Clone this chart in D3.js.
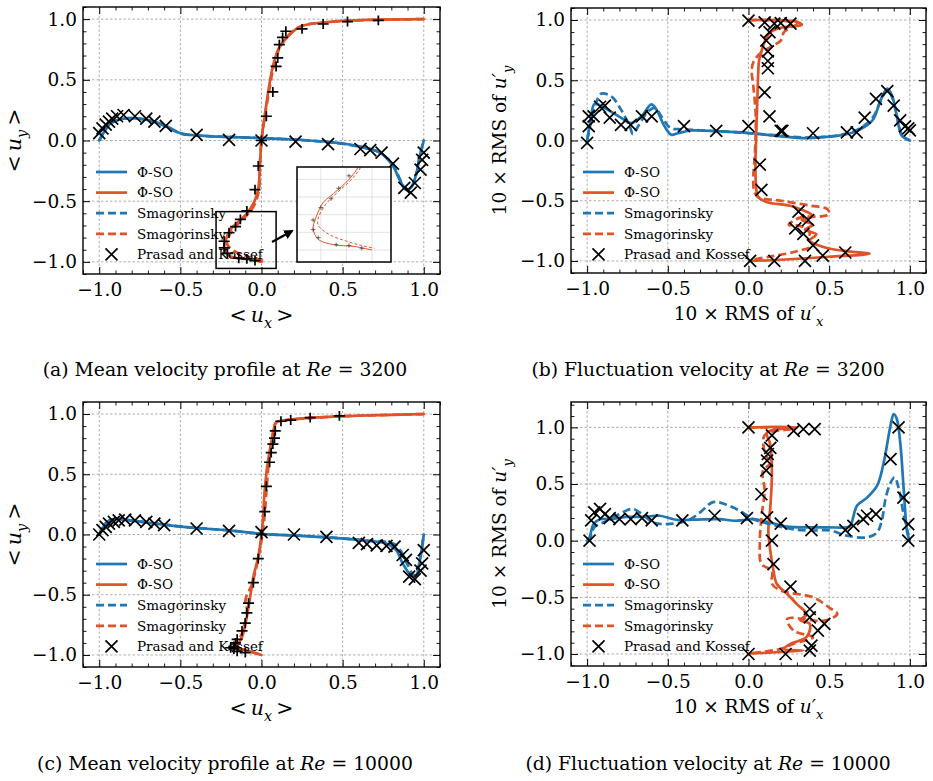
<!DOCTYPE html>
<html><head><meta charset="utf-8">
<script src="https://cdn.jsdelivr.net/npm/d3@7"></script>
<style>
body{margin:0;background:#fff}
svg{display:block}
text{font-family:"DejaVu Serif",serif;fill:#000}
</style>
</head><body>
<svg id="c" width="933" height="781"></svg>
<script>
// ---------------- data ----------------
const majorTicks = [-1, -0.5, 0, 0.5, 1];
const legendLabels = ["\u03A6-SO", "\u03A6-SO", "Smagorinsky", "Smagorinsky", "Prasad and Kossef"];
const captions = ["Mean velocity profile at ", "Fluctuation velocity at "];
const reynolds = ["3200", "10000"];

// (a) Re=3200 mean
const a_blue_phiso = [[-1,0],[-0.96,0.09],[-0.93,0.14],[-0.85,0.18],[-0.75,0.18],[-0.67,0.16],[-0.58,0.115],[-0.5,0.06],[-0.38,0.04],[-0.17,0.027],[0.01,0.02],[0.24,0.005],[0.44,-0.016],[0.61,-0.05],[0.73,-0.1],[0.81,-0.21],[0.85,-0.32],[0.89,-0.405],[0.92,-0.39],[0.955,-0.27],[0.975,-0.13],[1.0,0.0]];
const a_blue_smag = [[-1,0],[-0.96,0.1],[-0.93,0.145],[-0.85,0.182],[-0.75,0.178],[-0.67,0.158],[-0.58,0.11],[-0.5,0.058],[-0.38,0.04],[-0.17,0.028],[0.01,0.02],[0.24,0.004],[0.44,-0.018],[0.61,-0.052],[0.73,-0.1],[0.81,-0.2],[0.85,-0.31],[0.89,-0.4],[0.92,-0.39],[0.955,-0.27],[0.975,-0.13],[1,0]];
const a_orange_phiso = [[1,1],[0.44,0.98],[0.24,0.94],[0.18,0.88],[0.11,0.77],[0.07,0.61],[0.04,0.39],[0.02,0.2],[0,0],[-0.01,-0.21],[-0.02,-0.4],[-0.05,-0.52],[-0.09,-0.6],[-0.15,-0.68],[-0.19,-0.73],[-0.22,-0.82],[-0.23,-0.88],[-0.21,-0.94],[-0.15,-0.97],[-0.07,-0.98],[0,-1]];
const a_orange_smag = [[1,1],[0.44,0.98],[0.24,0.94],[0.18,0.885],[0.115,0.77],[0.075,0.61],[0.045,0.39],[0.02,0.2],[0,0],[-0.01,-0.21],[-0.015,-0.4],[-0.04,-0.52],[-0.08,-0.6],[-0.14,-0.68],[-0.18,-0.74],[-0.21,-0.82],[-0.21,-0.86],[-0.17,-0.91],[-0.1,-0.95],[-0.04,-0.975],[0.01,-0.99]];
const a_blue_ref = [[-1,0.06],[-0.98,0.1],[-0.96,0.13],[-0.94,0.155],[-0.92,0.18],[-0.89,0.2],[-0.85,0.21],[-0.78,0.2],[-0.71,0.18],[-0.66,0.155],[-0.59,0.12],[-0.4,0.047],[-0.2,0.005],[0,0],[0.21,-0.01],[0.41,-0.03],[0.61,-0.07],[0.67,-0.08],[0.74,-0.1],[0.81,-0.19],[0.88,-0.39],[0.92,-0.43],[0.945,-0.35],[0.98,-0.24],[0.99,-0.16],[1.0,-0.1]];
const a_orange_ref = [[-0.04,-0.99],[-0.09,-0.975],[-0.14,-0.97],[-0.21,-0.93],[-0.23,-0.885],[-0.23,-0.83],[-0.2,-0.76],[-0.16,-0.71],[-0.13,-0.65],[-0.09,-0.58],[-0.04,-0.405],[-0.02,-0.21],[0,0],[0.03,0.2],[0.07,0.4],[0.09,0.61],[0.1,0.68],[0.11,0.79],[0.13,0.85],[0.15,0.9],[0.25,0.92],[0.38,0.96],[0.53,0.98],[0.72,0.99]];

// (b) Re=3200 fluctuations
const b_blue_phiso = [[-1,0],[-0.98,0.15],[-0.953,0.306],[-0.891,0.27],[-0.788,0.187],[-0.726,0.145],[-0.664,0.2],[-0.602,0.3],[-0.57,0.256],[-0.52,0.117],[-0.479,0.048],[-0.437,0.06],[-0.355,0.083],[-0.169,0.075],[0.017,0.06],[0.2,0.035],[0.35,0.02],[0.48,0.03],[0.6,0.05],[0.69,0.09],[0.77,0.17],[0.82,0.34],[0.86,0.43],[0.89,0.37],[0.92,0.2],[0.95,0.04],[1,0]];
const b_blue_smag = [[-1,0],[-0.963,0.228],[-0.93,0.36],[-0.91,0.39],[-0.85,0.367],[-0.79,0.256],[-0.736,0.117],[-0.716,0.053],[-0.685,0.117],[-0.623,0.24],[-0.58,0.27],[-0.54,0.2],[-0.48,0.1],[-0.44,0.095],[-0.3,0.085],[-0.1,0.07],[0.05,0.055],[0.2,0.04],[0.35,0.025],[0.48,0.03],[0.6,0.055],[0.69,0.1],[0.77,0.19],[0.82,0.33],[0.86,0.42],[0.89,0.36],[0.92,0.2],[0.95,0.05],[1,0]];
const b_orange_phiso = [[0,1],[0.15,1.0],[0.3,0.985],[0.33,0.96],[0.25,0.945],[0.18,0.93],[0.13,0.89],[0.1,0.82],[0.08,0.74],[0.065,0.66],[0.06,0.55],[0.055,0.35],[0.05,0.15],[0.047,0],[0.043,-0.2],[0.047,-0.38],[0.06,-0.47],[0.11,-0.51],[0.28,-0.55],[0.4,-0.63],[0.33,-0.66],[0.4,-0.7],[0.35,-0.74],[0.42,-0.78],[0.38,-0.83],[0.48,-0.89],[0.62,-0.92],[0.75,-0.94],[0.5,-0.965],[0.2,-0.99],[0.01,-1.0]];
const b_orange_smag = [[0,1],[0.2,0.995],[0.3,0.97],[0.22,0.9],[0.2,0.83],[0.14,0.78],[0.07,0.72],[0.03,0.65],[0.02,0.58],[0.03,0.45],[0.045,0.2],[0.04,-0.1],[0.03,-0.3],[0.035,-0.42],[0.06,-0.47],[0.2,-0.5],[0.38,-0.54],[0.49,-0.57],[0.5,-0.61],[0.45,-0.63],[0.32,-0.64],[0.25,-0.7],[0.32,-0.71],[0.38,-0.76],[0.37,-0.82],[0.4,-0.87],[0.3,-0.92],[0.15,-0.96],[0.02,-0.99]];
const b_blue_ref = [[-1,-0.02],[-0.99,0.12],[-0.99,0.2],[-0.96,0.2],[-0.92,0.28],[-0.89,0.29],[-0.86,0.19],[-0.79,0.13],[-0.73,0.13],[-0.66,0.2],[-0.6,0.2],[-0.4,0.12],[-0.2,0.08],[0,0.12],[0.2,0.08],[0.4,0.06],[0.61,0.067],[0.67,0.067],[0.72,0.19],[0.79,0.345],[0.86,0.41],[0.9,0.29],[0.94,0.167],[0.97,0.117],[0.99,0.1],[1.0,0.084]];
const b_orange_ref = [[0,0.995],[0.1,0.98],[0.16,0.97],[0.2,0.975],[0.26,0.97],[0.13,0.9],[0.11,0.83],[0.12,0.74],[0.12,0.66],[0.12,0.6],[0.1,0.4],[0.13,0.2],[0.21,0.08],[0.07,-0.2],[0.08,-0.41],[0.31,-0.59],[0.37,-0.66],[0.29,-0.73],[0.34,-0.775],[0.4,-0.87],[0.46,-0.955],[0.6,-0.93],[0.35,-1.0],[0.16,-1.0],[0.01,-1.0]];

// (c) Re=10000 mean
const c_blue_phiso = [[-1,0],[-0.96,0.09],[-0.92,0.127],[-0.85,0.124],[-0.69,0.096],[-0.48,0.063],[-0.17,0.03],[0.01,0.003],[0.24,-0.011],[0.44,-0.028],[0.65,-0.052],[0.77,-0.074],[0.83,-0.13],[0.87,-0.24],[0.93,-0.35],[0.955,-0.336],[0.98,-0.185],[1.0,0.0]];
const c_blue_smag = [[-1,0],[-0.96,0.095],[-0.92,0.13],[-0.85,0.125],[-0.69,0.097],[-0.48,0.064],[-0.17,0.03],[0.01,0.004],[0.24,-0.01],[0.44,-0.026],[0.65,-0.05],[0.77,-0.062],[0.82,-0.08],[0.86,-0.14],[0.9,-0.25],[0.94,-0.34],[0.96,-0.3],[0.98,-0.18],[1,0]];
const c_orange_phiso = [[1,1],[0.44,0.978],[0.13,0.945],[0.09,0.93],[0.07,0.83],[0.04,0.61],[0.02,0.37],[0.01,0.15],[0,0],[-0.02,-0.185],[-0.05,-0.35],[-0.07,-0.52],[-0.09,-0.68],[-0.12,-0.85],[-0.15,-0.915],[-0.17,-0.93],[-0.11,-0.956],[0,-1.0]];
const c_orange_smag = [[1,1],[0.44,0.978],[0.13,0.945],[0.09,0.93],[0.065,0.8],[0.045,0.6],[0.03,0.35],[0.015,0.1],[0,-0.05],[-0.02,-0.2],[-0.04,-0.32],[-0.06,-0.42],[-0.09,-0.5],[-0.1,-0.56],[-0.09,-0.62],[-0.1,-0.72],[-0.12,-0.82],[-0.15,-0.9],[-0.17,-0.93],[-0.1,-0.96],[0,-1]];
const c_blue_ref = [[-1,0],[-0.98,0.036],[-0.96,0.063],[-0.94,0.09],[-0.91,0.105],[-0.88,0.118],[-0.84,0.124],[-0.78,0.118],[-0.71,0.105],[-0.66,0.09],[-0.6,0.077],[-0.4,0.05],[-0.2,0.03],[0,0.02],[0.2,0],[0.4,-0.02],[0.6,-0.07],[0.65,-0.08],[0.71,-0.09],[0.77,-0.094],[0.82,-0.1],[0.87,-0.17],[0.89,-0.21],[0.91,-0.35],[0.945,-0.37],[0.98,-0.3],[0.99,-0.24],[1.0,-0.13]];
const c_orange_ref = [[-0.19,-0.94],[-0.17,-0.95],[-0.15,-0.97],[-0.1,-0.98],[-0.17,-0.93],[-0.16,-0.9],[-0.15,-0.87],[-0.12,-0.8],[-0.1,-0.735],[-0.09,-0.65],[-0.08,-0.57],[-0.05,-0.4],[-0.02,-0.2],[0,0],[0.02,0.19],[0.03,0.4],[0.05,0.6],[0.06,0.68],[0.07,0.75],[0.08,0.8],[0.085,0.86],[0.12,0.94],[0.18,0.95],[0.3,0.97],[0.48,0.985]];

// (d) Re=10000 fluctuations
const d_blue_phiso = [[-1,0],[-0.985,0.03],[-0.96,0.147],[-0.92,0.19],[-0.86,0.19],[-0.76,0.21],[-0.65,0.21],[-0.55,0.22],[-0.45,0.185],[-0.34,0.185],[-0.18,0.19],[-0.09,0.176],[-0.03,0.182],[0.03,0.19],[0.13,0.16],[0.24,0.124],[0.38,0.118],[0.49,0.118],[0.61,0.118],[0.631,0.132],[0.673,0.31],[0.735,0.38],[0.797,0.485],[0.838,0.69],[0.88,1.015],[0.9,1.118],[0.92,1.07],[0.942,0.84],[0.963,0.43],[0.984,0.07],[1.0,0.0]];
const d_blue_smag = [[-1,0],[-0.985,0.015],[-0.955,0.12],[-0.9,0.16],[-0.82,0.22],[-0.72,0.28],[-0.66,0.235],[-0.59,0.16],[-0.51,0.147],[-0.38,0.176],[-0.3,0.25],[-0.22,0.34],[-0.14,0.32],[-0.05,0.26],[0.03,0.19],[0.18,0.13],[0.28,0.1],[0.38,0.09],[0.507,0.09],[0.61,0.044],[0.735,0.03],[0.797,0.073],[0.828,0.19],[0.849,0.37],[0.88,0.51],[0.905,0.56],[0.932,0.456],[0.963,0.22],[1,0]];
const d_orange_phiso = [[0,1.0],[0.3,1.0],[0.115,0.955],[0.135,0.85],[0.145,0.59],[0.135,0.294],[0.123,0.088],[0.135,-0.088],[0.155,-0.265],[0.175,-0.38],[0.24,-0.47],[0.3,-0.56],[0.36,-0.65],[0.32,-0.7],[0.38,-0.735],[0.36,-0.85],[0.26,-0.91],[0.22,-0.955],[0.34,-0.97],[0.01,-0.995]];
const d_orange_smag = [[0,1.0],[0.28,0.99],[0.1,0.93],[0.115,0.735],[0.155,0.7],[0.09,0.62],[0.1,0.44],[0.08,0.206],[0.07,-0.03],[0.08,-0.206],[0.145,-0.265],[0.145,-0.38],[0.2,-0.44],[0.4,-0.5],[0.5,-0.59],[0.55,-0.647],[0.47,-0.706],[0.24,-0.69],[0.28,-0.794],[0.4,-0.853],[0.28,-0.91],[0.2,-0.955],[0.01,-0.995]];
const d_blue_ref = [[-0.985,0],[-0.975,0.18],[-0.955,0.25],[-0.92,0.28],[-0.89,0.235],[-0.86,0.2],[-0.8,0.19],[-0.73,0.19],[-0.66,0.2],[-0.6,0.18],[-0.41,0.18],[-0.21,0.22],[-0.01,0.2],[0.2,0.15],[0.39,0.094],[0.6,0.094],[0.65,0.13],[0.71,0.19],[0.735,0.22],[0.79,0.235],[0.88,0.72],[0.93,1.0],[0.96,0.38],[0.99,0.147],[0.99,0.0]];
const d_orange_ref = [[0,1.0],[0.28,0.97],[0.34,0.985],[0.41,0.985],[0.145,0.93],[0.135,0.82],[0.12,0.765],[0.115,0.706],[0.11,0.62],[0.08,0.41],[0.115,0.206],[0.145,0.0],[0.155,-0.206],[0.26,-0.406],[0.38,-0.603],[0.38,-0.676],[0.47,-0.735],[0.43,-0.794],[0.39,-0.926],[0.38,-0.97],[0.23,-1.0],[0,-1.0]];

// inset of (a) and its arrow (data coordinates of panel a)
const insetXDomain = [-0.293, 0.074];
const insetYDomain = [-1.068, -0.53];
const insetSourceBox = [[-0.28, -0.586], [0.09, -1.054]];
const insetArrow = [[0.065, -0.836], [0.188, -0.746]];

// ---------------- drawing ----------------
const BLUE = "#1f77b4", ORANGE = "#df5328";
const svg = d3.select("#c");
const defs = svg.append("defs");
defs.append("marker").attr("id","arrowhead").attr("viewBox","0 0 10 10").attr("refX",8).attr("refY",5)
  .attr("markerWidth",4).attr("markerHeight",4).attr("orient","auto")
  .append("path").attr("d","M0,0 L10,5 L0,10 z").attr("fill","#000");

function crossPath(s){ return `M${-s},${-s}L${s},${s}M${-s},${s}L${s},${-s}`; }
function plusPath(s){ return `M${-s},0L${s},0M0,${-s*0.9}L0,${s*0.9}`; }

function rich(t, parts, fs){
  let shift = 0;
  parts.forEach(([s, st]) => {
    const ts = t.append("tspan").text(s);
    let target = 0;
    if (st === "i") ts.attr("font-style","italic");
    if (st === "sub") { ts.attr("font-style","italic").attr("font-size", fs*0.7); target = fs*0.3; }
    if (target !== shift) { ts.attr("dy", target - shift); shift = target; }
  });
}

function panel(p){
  const x = d3.scaleLinear().domain(p.xd).range([p.l, p.r]);
  const y = d3.scaleLinear().domain(p.yd).range([p.b, p.t]);
  const g = svg.append("g");
  const cid = "clip_" + p.name;
  defs.append("clipPath").attr("id", cid).append("rect")
    .attr("x", p.l).attr("y", p.t).attr("width", p.r - p.l).attr("height", p.b - p.t);

  // grid
  const gg = g.append("g").attr("stroke","#9a9a9a").attr("stroke-width",0.8).attr("stroke-dasharray","2.5,2");
  gg.selectAll(".gx").data(majorTicks).join("line")
    .attr("x1", d => x(d)).attr("x2", d => x(d)).attr("y1", p.t).attr("y2", p.b);
  gg.selectAll(".gy").data(majorTicks).join("line")
    .attr("y1", d => y(d)).attr("y2", d => y(d)).attr("x1", p.l).attr("x2", p.r);

  // lines
  const line = d3.line().x(d => x(d[0])).y(d => y(d[1])).curve(d3.curveCatmullRom.alpha(0.5));
  const lg = g.append("g").attr("clip-path", `url(#${cid})`);
  p.series.forEach(s => {
    lg.append("path").datum(s.data).attr("d", line).attr("fill","none")
      .attr("stroke", s.color).attr("stroke-width", 2.7)
      .attr("stroke-dasharray", s.dash ? "8,4" : null)
      .attr("stroke-linejoin","round").attr("stroke-linecap", s.dash ? "butt" : "round");
  });
  // markers
  p.markers.forEach(m => {
    lg.selectAll(null).data(m.data).join("path")
      .attr("transform", d => `translate(${x(d[0])},${y(d[1])})`)
      .attr("d", m.type === "plus" ? plusPath(5.5) : crossPath(6))
      .attr("fill","none").attr("stroke","#000").attr("stroke-width",1.7);
  });

  // axes (inward ticks on all sides)
  const minorX = d3.range(-12, 13).map(i => i/10).filter(v => v >= p.xd[0] && v <= p.xd[1] && !majorTicks.some(m => Math.abs(m - v) < 1e-9));
  const minorY = d3.range(-12, 13).map(i => i/10).filter(v => v >= p.yd[0] && v <= p.yd[1] && !majorTicks.some(m => Math.abs(m - v) < 1e-9));
  const fmt = d3.format(".1f");
  const axes = [
    [d3.axisBottom(x), `translate(0,${p.b})`, true, minorX],
    [d3.axisTop(x), `translate(0,${p.t})`, false, minorX],
    [d3.axisLeft(y), `translate(${p.l},0)`, true, minorY],
    [d3.axisRight(y), `translate(${p.r},0)`, false, minorY]
  ];
  axes.forEach(([ax, tr, lab, minor], i) => {
    const major = ax.tickValues(majorTicks).tickSizeInner(-7).tickSizeOuter(0)
      .tickPadding(i === 0 ? 9 : 6).tickFormat(lab ? fmt : () => "");
    const ga = g.append("g").attr("transform", tr).call(major);
    ga.select(".domain").remove();
    ga.selectAll("text").attr("font-size", 18.5).attr("font-family", '"DejaVu Serif",serif');
    ga.selectAll("line").attr("stroke-width", 1);
    const axm = (i === 0 ? d3.axisBottom(x) : i === 1 ? d3.axisTop(x) : i === 2 ? d3.axisLeft(y) : d3.axisRight(y))
      .tickValues(minor).tickSizeInner(-3.5).tickSizeOuter(0).tickFormat(() => "");
    const gm = g.append("g").attr("transform", tr).call(axm);
    gm.select(".domain").remove();
    gm.selectAll("line").attr("stroke-width", 0.9);
  });

  // frame
  g.append("rect").attr("x", p.l).attr("y", p.t).attr("width", p.r - p.l).attr("height", p.b - p.t)
    .attr("fill","none").attr("stroke","#000").attr("stroke-width",1.4);

  // axis labels
  const fsl = p.labFs;
  const xl = g.append("text").attr("x", (p.l + p.r)/2).attr("y", p.xlabY).attr("text-anchor","middle").attr("font-size", fsl);
  rich(xl, p.xlab, fsl);
  const yl = g.append("text").attr("transform", `translate(${p.ylabX},${(p.t + p.b)/2}) rotate(-90)`)
    .attr("text-anchor","middle").attr("font-size", fsl);
  rich(yl, p.ylab, fsl);

  // legend
  const lgd = g.append("g");
  const styles = [
    {c: BLUE, dash: null}, {c: ORANGE, dash: null}, {c: BLUE, dash: "8,4"}, {c: ORANGE, dash: "8,4"}, {mark: true}
  ];
  legendLabels.forEach((lab, i) => {
    const yy = p.legY + i * 20.6;
    const st = styles[i];
    if (st.mark) {
      lgd.append("path").attr("transform", `translate(${p.legX + 15.5},${yy})`).attr("d", crossPath(6))
        .attr("fill","none").attr("stroke","#000").attr("stroke-width",1.7);
    } else {
      lgd.append("line").attr("x1", p.legX).attr("x2", p.legX + 31).attr("y1", yy).attr("y2", yy)
        .attr("stroke", st.c).attr("stroke-width", 2.7).attr("stroke-dasharray", st.dash);
    }
    lgd.append("text").attr("x", p.legX + 41).attr("y", yy).attr("dy","0.36em")
      .attr("font-size", 13.5).text(lab);
  });

  // caption
  const cap = svg.append("text").attr("x", p.capX).attr("y", p.capY).attr("text-anchor","middle").attr("font-size", 18.8);
  rich(cap, p.caption, 18.8);

  return {x, y, g};
}

const labUx = [["<\u2009", "n"], ["u", "i"], ["x", "sub"], ["\u2009>", "n"]];
const labUy = [["<\u2009", "n"], ["u", "i"], ["y", "sub"], ["\u2009>", "n"]];
const labRx = [["10 \u00D7 RMS of ", "n"], ["u\u2032", "i"], ["x", "sub"]];
const labRy = [["10 \u00D7 RMS of ", "n"], ["u\u2032", "i"], ["y", "sub"]];

const pa = panel({name:"a", l:83, r:440, t:7, b:274, xd:[-1.1,1.1], yd:[-1.1,1.1],
  series:[{data:a_blue_phiso,color:BLUE},{data:a_orange_phiso,color:ORANGE},{data:a_blue_smag,color:BLUE,dash:true},{data:a_orange_smag,color:ORANGE,dash:true}],
  markers:[{data:a_blue_ref,type:"cross"},{data:a_orange_ref,type:"plus"}],
  xlab:labUx, ylab:labUy, labFs:20.5, xlabY:322, ylabX:21, legX:96, legY:172,
  caption:[["(a) " + captions[0], "n"], ["Re", "i"], [" = " + reynolds[0], "n"]], capX:225, capY:376});

panel({name:"b", l:571, r:926, t:8, b:273, xd:[-1.1,1.1], yd:[-1.1,1.1],
  series:[{data:b_blue_phiso,color:BLUE},{data:b_orange_phiso,color:ORANGE},{data:b_blue_smag,color:BLUE,dash:true},{data:b_orange_smag,color:ORANGE,dash:true}],
  markers:[{data:b_blue_ref,type:"cross"},{data:b_orange_ref,type:"cross"}],
  xlab:labRx, ylab:labRy, labFs:18.5, xlabY:320, ylabX:506, legX:583, legY:172,
  caption:[["(b) " + captions[1], "n"], ["Re", "i"], [" = " + reynolds[0], "n"]], capX:708, capY:376});

panel({name:"c", l:83, r:440, t:402, b:667, xd:[-1.1,1.1], yd:[-1.1,1.1],
  series:[{data:c_blue_phiso,color:BLUE},{data:c_orange_phiso,color:ORANGE},{data:c_blue_smag,color:BLUE,dash:true},{data:c_orange_smag,color:ORANGE,dash:true}],
  markers:[{data:c_blue_ref,type:"cross"},{data:c_orange_ref,type:"plus"}],
  xlab:labUx, ylab:labUy, labFs:20.5, xlabY:715, ylabX:21, legX:96, legY:564,
  caption:[["(c) " + captions[0], "n"], ["Re", "i"], [" = " + reynolds[1], "n"]], capX:225, capY:770});

panel({name:"d", l:571, r:926, t:402, b:666, xd:[-1.1,1.1], yd:[-1.106,1.224],
  series:[{data:d_blue_phiso,color:BLUE},{data:d_orange_phiso,color:ORANGE},{data:d_blue_smag,color:BLUE,dash:true},{data:d_orange_smag,color:ORANGE,dash:true}],
  markers:[{data:d_blue_ref,type:"cross"},{data:d_orange_ref,type:"cross"}],
  xlab:labRx, ylab:labRy, labFs:18.5, xlabY:713, ylabX:506, legX:583, legY:564,
  caption:[["(d) " + captions[1], "n"], ["Re", "i"], [" = " + reynolds[1], "n"]], capX:708, capY:770});

// ---------- inset in (a) ----------
(function(){
  const {x, y, g} = pa;
  g.append("rect").attr("x", x(insetSourceBox[0][0])).attr("y", y(insetSourceBox[0][1]))
    .attr("width", x(insetSourceBox[1][0]) - x(insetSourceBox[0][0]))
    .attr("height", y(insetSourceBox[1][1]) - y(insetSourceBox[0][1]))
    .attr("fill","none").attr("stroke","#000").attr("stroke-width",1.5);
  g.append("line").attr("x1", x(insetArrow[0][0])).attr("y1", y(insetArrow[0][1]))
    .attr("x2", x(insetArrow[1][0])).attr("y2", y(insetArrow[1][1]))
    .attr("stroke","#000").attr("stroke-width",2.4).attr("marker-end","url(#arrowhead)");
  const L = 297, R = 391, T = 167, B = 262;
  const xi = d3.scaleLinear().domain(insetXDomain).range([L, R]);
  const yi = d3.scaleLinear().domain(insetYDomain).range([B, T]);
  defs.append("clipPath").attr("id","clip_inset").append("rect").attr("x",L).attr("y",T).attr("width",R-L).attr("height",B-T);
  const ig = g.append("g");
  ig.append("rect").attr("x",L).attr("y",T).attr("width",R-L).attr("height",B-T).attr("fill","#fff");
  const c = ig.append("g").attr("clip-path","url(#clip_inset)");
  const gx = [-0.2,-0.1,0.0], gy = [-1.0,-0.9,-0.8,-0.7,-0.6];
  c.selectAll(".igx").data(gx).join("line").attr("x1",d=>xi(d)).attr("x2",d=>xi(d)).attr("y1",T).attr("y2",B)
    .attr("stroke","#dcdcdc").attr("stroke-width",0.8);
  c.selectAll(".igy").data(gy).join("line").attr("y1",d=>yi(d)).attr("y2",d=>yi(d)).attr("x1",L).attr("x2",R)
    .attr("stroke","#dcdcdc").attr("stroke-width",0.8);
  const li = d3.line().x(d=>xi(d[0])).y(d=>yi(d[1])).curve(d3.curveCatmullRom.alpha(0.5));
  c.append("path").datum(a_orange_phiso).attr("d",li).attr("fill","none").attr("stroke",ORANGE).attr("stroke-width",1);
  c.append("path").datum(a_orange_smag).attr("d",li).attr("fill","none").attr("stroke",ORANGE).attr("stroke-width",1).attr("stroke-dasharray","3,2");
  c.selectAll(".im").data(a_orange_ref).join("path").attr("transform",d=>`translate(${xi(d[0])},${yi(d[1])})`)
    .attr("d", plusPath(2.3)).attr("stroke","#444").attr("stroke-width",0.8).attr("fill","none");
  ig.append("rect").attr("x",L).attr("y",T).attr("width",R-L).attr("height",B-T).attr("fill","none").attr("stroke","#000").attr("stroke-width",1.5);
})();
</script>
</body></html>
